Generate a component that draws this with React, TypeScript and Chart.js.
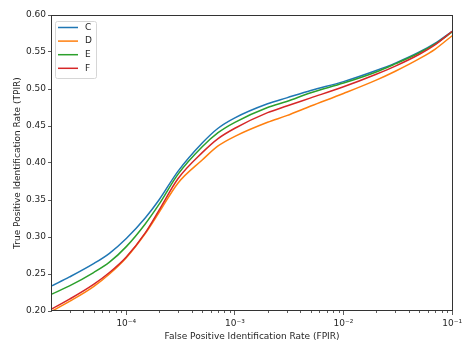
import React, { useEffect, useRef } from "react";
import { Chart, registerables } from "chart.js";
Chart.register(...registerables);

const seriesNames = ["C", "D", "E", "F"];
const seriesColors = ["#1f77b4", "#ff7f0e", "#2ca02c", "#d62728"];

const fpir = [2.07e-5, 3e-5, 5e-5, 7e-5, 1e-4, 1.5e-4, 2e-4, 3e-4, 5e-4, 7e-4, 1e-3, 2e-3, 3e-3, 5e-3, 1e-2, 2e-2, 3e-2, 5e-2, 7e-2, 1e-1];
const tprC = [0.234, 0.246, 0.264, 0.278, 0.298, 0.326, 0.35, 0.389, 0.427, 0.447, 0.461, 0.48, 0.488, 0.498, 0.51, 0.525, 0.535, 0.55, 0.562, 0.578];
const tprD = [0.2, 0.213, 0.233, 0.25, 0.272, 0.305, 0.333, 0.373, 0.404, 0.423, 0.436, 0.455, 0.464, 0.477, 0.494, 0.512, 0.524, 0.541, 0.554, 0.572];
const tprE = [0.223, 0.234, 0.252, 0.266, 0.287, 0.318, 0.344, 0.385, 0.422, 0.441, 0.455, 0.475, 0.483, 0.495, 0.508, 0.523, 0.534, 0.549, 0.561, 0.577];
const tprF = [0.203, 0.216, 0.236, 0.252, 0.273, 0.306, 0.336, 0.379, 0.414, 0.433, 0.447, 0.468, 0.477, 0.488, 0.503, 0.52, 0.531, 0.547, 0.56, 0.578];
const seriesValues = [tprC, tprD, tprE, tprF];

const xMin = 2.07e-5;
const xMax = 0.1;
const yMin = 0.2;
const yMax = 0.6;
const yStep = 0.05;
const xTitle = "False Positive Identification Rate (FPIR)";
const yTitle = "True Positive Identification Rate (TPIR)";

const FONT = "DejaVu Sans";
const TEXT = "#262626";
const SUP: Record<string, string> = { "-": "⁻", "0": "⁰", "1": "¹", "2": "²", "3": "³", "4": "⁴", "5": "⁵", "6": "⁶", "7": "⁷", "8": "⁸", "9": "⁹" };

function isDecade(v: number) {
  const l = Math.log10(v);
  return Math.abs(l - Math.round(l)) < 1e-6;
}

const decorPlugin = {
  id: "decor",
  afterDraw(chart: any) {
    const { ctx, chartArea } = chart;
    const { left, right, top, bottom } = chartArea;
    const xs = chart.scales.x;
    ctx.save();
    // frame
    ctx.strokeStyle = "#333333";
    ctx.lineWidth = 1;
    ctx.strokeRect(Math.round(left) - 0.5, Math.round(top) + 0.5, Math.round(right) - Math.round(left) + 1, Math.round(bottom) - Math.round(top) - 1);
    // minor ticks
    ctx.beginPath();
    for (const t of xs.ticks) {
      if (isDecade(t.value)) continue;
      const px = Math.round(xs.getPixelForValue(t.value)) + 0.5;
      ctx.moveTo(px, bottom);
      ctx.lineTo(px, bottom + 2);
    }
    ctx.lineWidth = 0.8;
    ctx.stroke();
    // legend
    const bx = left + 3, by = top + 6, bw = 41, bh = 57;
    ctx.beginPath();
    (ctx as any).roundRect(bx + 0.5, by + 0.5, bw, bh, 2);
    ctx.fillStyle = "rgba(255,255,255,0.8)";
    ctx.fill();
    ctx.strokeStyle = "#d6d6d6";
    ctx.lineWidth = 1;
    ctx.stroke();
    ctx.font = `9px '${FONT}'`;
    ctx.textBaseline = "middle";
    ctx.textAlign = "left";
    seriesNames.forEach((name, i) => {
      const yy = by + 6.5 + i * 13.6;
      ctx.beginPath();
      ctx.moveTo(bx + 3, yy);
      ctx.lineTo(bx + 23, yy);
      ctx.strokeStyle = seriesColors[i];
      ctx.lineWidth = 1.5;
      ctx.stroke();
      ctx.fillStyle = TEXT;
      ctx.fillText(name, bx + 30, yy);
    });
    // axis titles
    ctx.fillStyle = TEXT;
    ctx.textAlign = "center";
    ctx.textBaseline = "middle";
    ctx.fillText(xTitle, (left + right) / 2, 337);
    ctx.translate(18, (top + bottom) / 2);
    ctx.rotate(-Math.PI / 2);
    ctx.fillText(yTitle, 0, 0);
    ctx.restore();
  },
};

export default function App() {
  const ref = useRef<HTMLCanvasElement>(null);
  useEffect(() => {
    document.body.style.margin = "0";
    if (!ref.current) return;
    Chart.defaults.font.family = FONT;
    const chart = new Chart(ref.current, {
      type: "line",
      data: {
        datasets: seriesNames.map((name, i) => ({
          label: name,
          data: fpir.map((x, j) => ({ x, y: seriesValues[i][j] })),
          borderColor: seriesColors[i],
          backgroundColor: seriesColors[i],
          borderWidth: 1.5,
          pointRadius: 0,
          cubicInterpolationMode: "monotone" as const,
          order: seriesNames.length - i,
        })),
      },
      options: {
        animation: false,
        responsive: false,
        maintainAspectRatio: false,
        layout: { padding: { top: 15, right: 9, left: 0, bottom: 0 } },
        plugins: { legend: { display: false }, tooltip: { enabled: false } },
        scales: {
          x: {
            type: "logarithmic",
            min: xMin,
            max: xMax,
            afterBuildTicks(scale: any) {
              const ticks: any[] = [];
              for (let e = -5; e <= -1; e++) {
                for (let m = 1; m <= 9; m++) {
                  const v = m * Math.pow(10, e);
                  if (v >= xMin * 0.999 && v <= xMax * 1.001) ticks.push({ value: v, major: m === 1 });
                }
              }
              scale.ticks = ticks;
            },
            afterFit(scale: any) {
              scale.height = 32;
            },
            ticks: {
              autoSkip: false,
              maxRotation: 0,
              padding: 3,
              color: TEXT,
              font: { size: 9, family: FONT },
              callback(value: any) {
                const v = Number(value);
                if (!isDecade(v)) return "";
                const ex = String(Math.round(Math.log10(v)));
                return "10" + ex.split("").map((c) => SUP[c]).join("");
              },
            },
            grid: {
              drawOnChartArea: false,
              drawTicks: true,
              tickLength: 4,
              tickColor: (ctx: any) => (ctx.tick && isDecade(ctx.tick.value) ? "#333333" : "rgba(0,0,0,0)"),
              tickWidth: 0.8,
            },
            border: { display: false },
          },
          y: {
            type: "linear",
            min: yMin,
            max: yMax,
            afterFit(scale: any) {
              scale.width = 52;
            },
            ticks: {
              stepSize: yStep,
              padding: 2,
              color: TEXT,
              font: { size: 9, family: FONT },
              callback(value: any) {
                return Number(value).toFixed(2);
              },
            },
            grid: {
              drawOnChartArea: false,
              drawTicks: true,
              tickLength: 4,
              tickColor: "#333333",
              tickWidth: 0.8,
            },
            border: { display: false },
          },
        },
      },
      plugins: [decorPlugin],
    });
    return () => chart.destroy();
  }, []);
  return (
    <div style={{ width: 465, height: 343, position: "relative" }}>
      <canvas ref={ref} width={465} height={343} style={{ width: 465, height: 343, display: "block" }} />
    </div>
  );
}
